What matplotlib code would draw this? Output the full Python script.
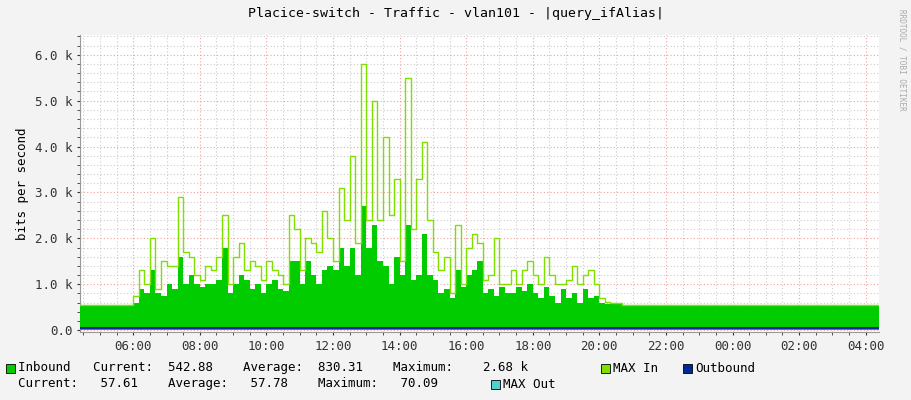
import numpy as np
import matplotlib
matplotlib.use("Agg")
import matplotlib.pyplot as plt
from matplotlib.patches import Rectangle
from matplotlib.ticker import MultipleLocator, FuncFormatter

# hours (24h window starting ~04:24), 10-minute steps from 06:00 to 20:30
inbound = [0.6,0.9,0.8,1.3,0.8,0.75,1.0,0.9,1.6,1.0,1.2,1.0,0.95,1.0,
           1.0,1.1,1.8,0.8,1.0,1.2,1.1,0.9,1.0,0.8,1.0,1.1,0.9,0.85,1.5,1.5,
           1.0,1.5,1.2,1.0,1.3,1.4,1.3,1.8,1.4,1.8,1.2,2.7,1.8,2.3,1.5,1.4,
           1.0,1.6,1.2,2.3,1.1,1.2,2.1,1.2,1.1,0.8,0.9,0.7,1.3,0.95,1.2,1.3,
           1.5,0.8,0.9,0.75,0.95,0.8,0.8,0.95,0.85,1.0,0.8,0.7,0.95,0.75,0.6,
           0.9,0.7,0.8,0.6,0.9,0.7,0.75,0.6,0.56,0.56,0.56]
max_in = [0.75,1.3,1.0,2.0,0.9,1.5,1.4,1.4,2.9,1.7,1.6,1.2,1.1,1.4,
          1.3,1.6,2.5,1.0,1.6,1.9,1.3,1.5,1.4,1.1,1.5,1.3,1.2,1.0,2.5,2.2,
          1.3,2.0,1.9,1.7,2.6,2.0,1.5,3.1,2.4,3.8,1.9,5.8,2.4,5.0,2.4,4.2,
          2.5,3.3,1.5,5.5,2.2,3.3,4.1,2.4,1.7,1.3,1.6,0.8,2.3,1.0,1.8,2.1,
          1.9,1.1,1.2,2.0,1.0,1.0,1.3,1.0,1.3,1.5,1.2,1.0,1.6,1.2,1.0,
          1.0,1.1,1.4,1.0,1.2,1.3,1.0,0.7,0.62,0.6,0.6]
baseline_in = 0.543
outbound = 0.058
xticklabels = ["06:00","08:00","10:00","12:00","14:00","16:00","18:00",
               "20:00","22:00","00:00","02:00","04:00"]

t0, t1 = 4.4, 28.4
tv = 6.0 + np.arange(len(inbound)) / 6.0
t = np.concatenate([[t0], tv, [tv[-1] + 1/6, t1]])
vin = np.concatenate([[baseline_in], inbound, [baseline_in, baseline_in]])
vmax = np.concatenate([[baseline_in], max_in, [baseline_in, baseline_in]])

fig = plt.figure(figsize=(9.11, 4.0), dpi=100, facecolor="#F3F3F3")
ax = fig.add_axes([80/911, 1-332/400, 799/911, 297/400], facecolor="white")
mono = "DejaVu Sans Mono"

ax.fill_between(t, 0, vin, step="post", color="#00CC00", lw=0, zorder=3)
ax.step(t, vmax, where="post", color="#7FE000", lw=1, zorder=4)
ax.axhline(outbound, color="#002A97", lw=1.5, zorder=5)

ax.set_xlim(t0, t1)
ax.set_ylim(-0.04, 6.43)
ax.xaxis.set_major_locator(MultipleLocator(2))
ax.xaxis.set_minor_locator(MultipleLocator(0.5))
ax.yaxis.set_major_locator(MultipleLocator(1))
ax.yaxis.set_minor_locator(MultipleLocator(0.2))
ax.set_xticks(np.arange(6, 28.1, 2))
ax.set_xticklabels(xticklabels, fontsize=9, family=mono)
ax.yaxis.set_major_formatter(FuncFormatter(lambda v, p: f"{v:.1f} k" if v else "0.0"))
for lab in ax.get_yticklabels():
    lab.set_family(mono); lab.set_fontsize(9)
ax.set_axisbelow(True)
ax.grid(which="minor", color="#CCCCCC", ls=(0, (1, 2)), lw=0.8, zorder=1)
ax.grid(which="major", color="#F0A0A0", ls=(0, (1, 2)), lw=0.8, zorder=1)
for s in ["top", "right"]:
    ax.spines[s].set_visible(False)
ax.spines["left"].set_color("#999999")
ax.spines["bottom"].set_color("#999999")
ax.tick_params(which="both", length=2, colors="#333333", labelsize=9)
ax.set_ylabel("bits per second", family=mono, fontsize=9)

fig.text(0.5, 1-14/400, "Placice-switch - Traffic - vlan101 - |query_ifAlias|",
         ha="center", va="center", family=mono, fontsize=9.5)
fig.text(902/911, 1-60/400, "RRDTOOL / TOBI OETIKER", rotation=270,
         ha="center", va="center", family=mono, fontsize=5.5, color="#AAAAAA")

def sw(x, y, c):
    fig.patches.append(Rectangle((x/911, 1-(y+5)/400), 9/911, 9/400,
                                 transform=fig.transFigure, facecolor=c,
                                 edgecolor="black", lw=0.6))
def tx(x, y, s):
    fig.text(x/911, 1-y/400, s, family=mono, fontsize=9, va="center")

sw(6, 368, "#00CC00"); tx(18, 368, "Inbound   Current:  542.88    Average:  830.31    Maximum:    2.68 k")
sw(601, 368, "#7FE000"); tx(613, 368, "MAX In")
sw(683, 368, "#002A97"); tx(695, 368, "Outbound")
tx(18, 384, "Current:   57.61    Average:   57.78    Maximum:   70.09")
sw(491, 384, "#50D0D0"); tx(503, 384, "MAX Out")

fig.savefig("out.png", dpi=100, facecolor=fig.get_facecolor())
